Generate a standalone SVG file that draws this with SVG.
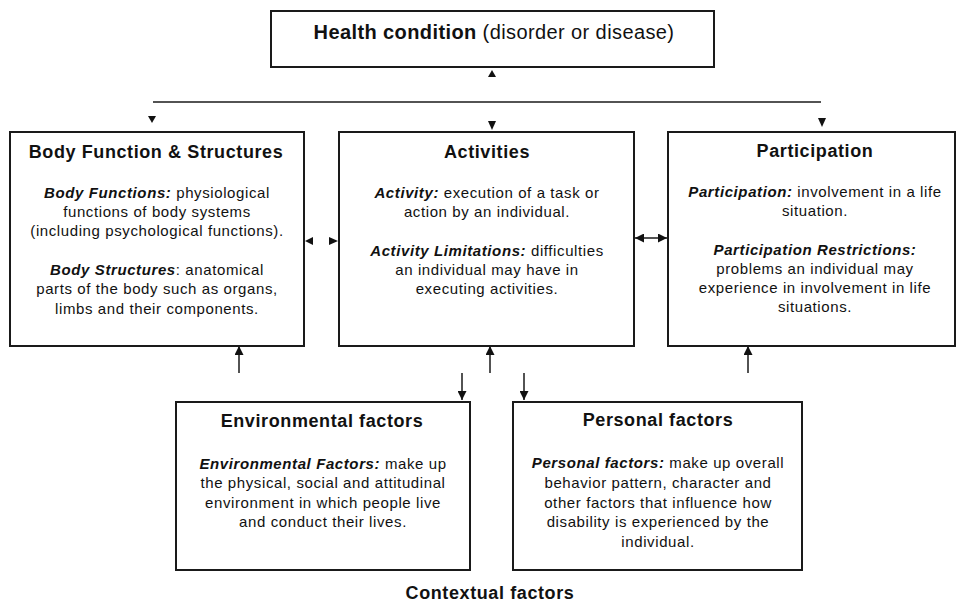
<svg xmlns="http://www.w3.org/2000/svg" width="957" height="605" viewBox="0 0 957 605">
<style>
.box{fill:#fff;stroke:#1a1a1a;stroke-width:2}
.t{font-family:"Liberation Sans",Arial,sans-serif;fill:#111;text-anchor:middle}
.h{font-size:18px;font-weight:bold;letter-spacing:0.6px}
.b{font-size:15px;letter-spacing:0.6px}
.bi{font-weight:bold;font-style:italic}
.ln{stroke:#1a1a1a;stroke-width:1.5;fill:none}
.tri{fill:#111}
</style>
<defs>
<marker id="ah" viewBox="0 0 10 10" refX="10" refY="5" markerWidth="9" markerHeight="9" markerUnits="userSpaceOnUse" orient="auto"><path d="M0,0 L10,5 L0,10 z" fill="#111"/></marker>
</defs>
<rect width="957" height="605" fill="#fff"/>
<g id="connectors">
<path class="ln" d="M153,102 H821"/>
<polygon class="tri" points="492,70 488,77 496,77"/>
<polygon class="tri" points="148,116 156,116 152,123"/>
<polygon class="tri" points="488,121 496,121 492,130"/>
<polygon class="tri" points="818,118 826,118 822,127"/>
<polygon class="tri" points="305,241 313,237 313,245"/>
<polygon class="tri" points="338,241 329,237 329,245"/>
<path class="ln" d="M651,238 H635" marker-end="url(#ah)"/>
<path class="ln" d="M651,238 H667" marker-end="url(#ah)"/>
<path class="ln" d="M239,373 V346" marker-end="url(#ah)"/>
<path class="ln" d="M490,373 V346" marker-end="url(#ah)"/>
<path class="ln" d="M748,373 V346" marker-end="url(#ah)"/>
<path class="ln" d="M462,373 V400" marker-end="url(#ah)"/>
<path class="ln" d="M524,373 V400" marker-end="url(#ah)"/>
</g>
<g id="health">
<rect class="box" x="271" y="11" width="443" height="56"/>
<text class="t" x="494" y="39" style="font-size:20px;letter-spacing:0.4px"><tspan font-weight="bold">Health condition</tspan> (disorder or disease)</text>
</g>
<g id="body">
<rect class="box" x="10" y="132" width="294" height="214"/>
<text class="t h" x="156" y="158">Body Function &amp; Structures</text>
<text class="t b" x="157" y="198"><tspan class="bi">Body Functions:</tspan>  physiological</text>
<text class="t b" x="157" y="217">functions of body systems</text>
<text class="t b" x="157" y="236">(including psychological functions).</text>
<text class="t b" x="157" y="275"><tspan class="bi">Body Structures</tspan>: anatomical</text>
<text class="t b" x="157" y="294">parts of the body such as organs,</text>
<text class="t b" x="157" y="314">limbs and their components.</text>
</g>
<g id="activities">
<rect class="box" x="339" y="132" width="295" height="214"/>
<text class="t h" x="487" y="158">Activities</text>
<text class="t b" x="487" y="198"><tspan class="bi">Activity:</tspan> execution of a task or</text>
<text class="t b" x="487" y="217">action by an individual.</text>
<text class="t b" x="487" y="256"><tspan class="bi">Activity Limitations:</tspan> difficulties</text>
<text class="t b" x="487" y="275">an individual may have in</text>
<text class="t b" x="487" y="294">executing activities.</text>
</g>
<g id="participation">
<rect class="box" x="668" y="132" width="287" height="214"/>
<text class="t h" x="815" y="157">Participation</text>
<text class="t b" x="815" y="197"><tspan class="bi">Participation:</tspan>  involvement in a life</text>
<text class="t b" x="815" y="216">situation.</text>
<text class="t b" x="815" y="255"><tspan class="bi">Participation  Restrictions:</tspan></text>
<text class="t b" x="815" y="274">problems an individual may</text>
<text class="t b" x="815" y="293">experience in involvement in life</text>
<text class="t b" x="815" y="312">situations.</text>
</g>
<g id="environmental">
<rect class="box" x="176" y="402" width="294" height="168"/>
<text class="t h" x="322" y="427">Environmental factors</text>
<text class="t b" x="323" y="469"><tspan class="bi">Environmental  Factors:</tspan> make up</text>
<text class="t b" x="323" y="488">the physical, social and attitudinal</text>
<text class="t b" x="323" y="508">environment in which people live</text>
<text class="t b" x="323" y="527">and conduct their lives.</text>
</g>
<g id="personal">
<rect class="box" x="513" y="402" width="289" height="168"/>
<text class="t h" x="658" y="426">Personal factors</text>
<text class="t b" x="658" y="468"><tspan class="bi">Personal factors:</tspan> make up overall</text>
<text class="t b" x="658" y="488">behavior pattern, character and</text>
<text class="t b" x="658" y="508">other factors that influence how</text>
<text class="t b" x="658" y="527">disability is experienced by the</text>
<text class="t b" x="658" y="547">individual.</text>
</g>
<g id="contextual">
<text class="t h" x="490" y="599">Contextual factors</text>
</g>
</svg>
